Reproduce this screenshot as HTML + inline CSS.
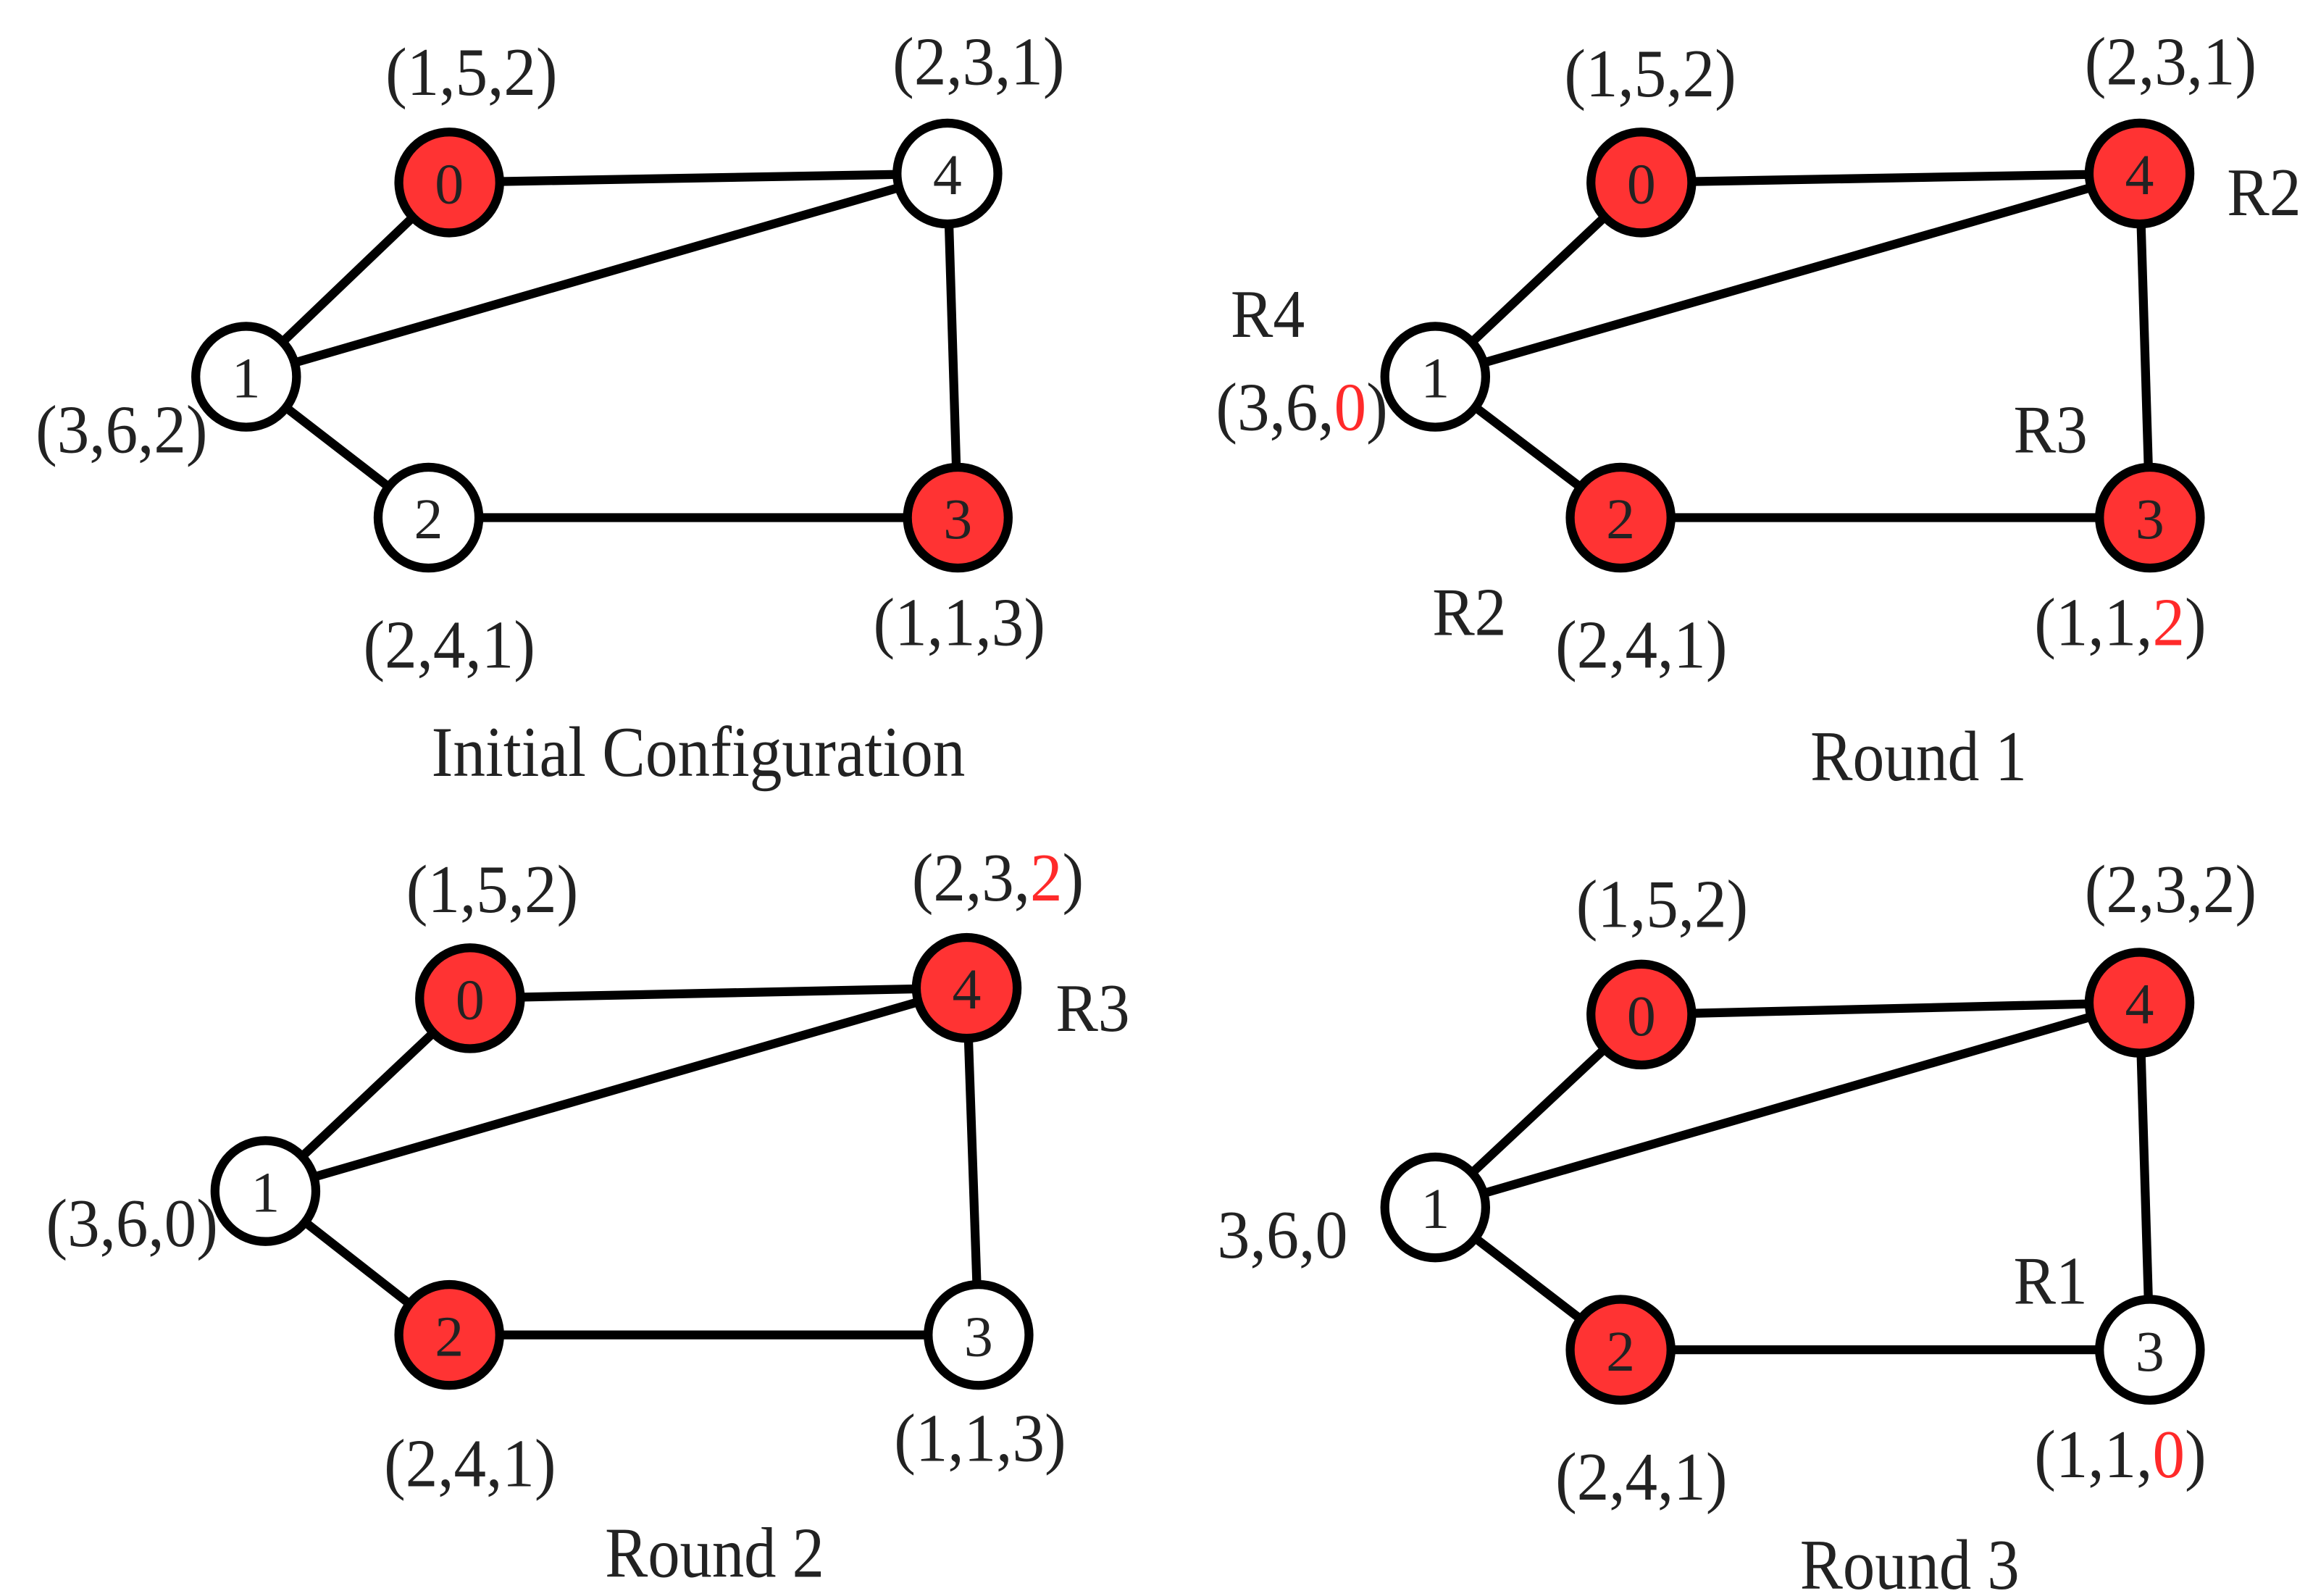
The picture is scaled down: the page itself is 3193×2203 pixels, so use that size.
<!DOCTYPE html>
<html><head><meta charset="utf-8"><style>
html,body{margin:0;padding:0;background:#fff;}
svg{display:block;}
text{font-family:"Liberation Serif",serif;fill:#222;text-anchor:middle;}
.l{font-size:46px;}
.n{font-size:39px;}
.t{font-size:48px;}
.r{fill:#ff2a2a;}
</style></head><body>
<svg width="3193" height="2203" viewBox="0 0 1560 1076" preserveAspectRatio="none" xmlns="http://www.w3.org/2000/svg">
<!-- Panel TL -->
<g stroke="#000" stroke-width="6" fill="none">
<line x1="166" y1="254" x2="303" y2="123"/><line x1="303" y1="123" x2="639" y2="117"/><line x1="166" y1="254" x2="639" y2="117"/><line x1="166" y1="254" x2="289" y2="349"/><line x1="289" y1="349" x2="646" y2="349"/><line x1="639" y1="117" x2="646" y2="349"/>
</g>
<g stroke="#000" stroke-width="6">
<circle cx="303" cy="123" r="34" fill="#ff3333"/><circle cx="639" cy="117" r="34" fill="#fff"/><circle cx="166" cy="254" r="34" fill="#fff"/><circle cx="289" cy="349" r="34" fill="#fff"/><circle cx="646" cy="349" r="34" fill="#ff3333"/>
</g>
<text class="n" x="303" y="137">0</text><text class="n" x="639" y="131">4</text><text class="n" x="166" y="268">1</text><text class="n" x="289" y="363">2</text><text class="n" x="646" y="363">3</text>
<text class="l" x="318" y="64" textLength="116" lengthAdjust="spacingAndGlyphs">(1,5,2)</text><text class="l" x="660" y="57" textLength="116" lengthAdjust="spacingAndGlyphs">(2,3,1)</text><text class="l" x="82" y="305" textLength="116" lengthAdjust="spacingAndGlyphs">(3,6,2)</text><text class="l" x="303" y="450" textLength="116" lengthAdjust="spacingAndGlyphs">(2,4,1)</text><text class="l" x="647" y="435" textLength="116" lengthAdjust="spacingAndGlyphs">(1,1,3)</text>
<text class="t" x="471" y="523" textLength="360" lengthAdjust="spacingAndGlyphs">Initial Configuration</text>

<!-- Panel TR -->
<g stroke="#000" stroke-width="6" fill="none">
<line x1="968" y1="254" x2="1107" y2="123"/><line x1="1107" y1="123" x2="1443" y2="117"/><line x1="968" y1="254" x2="1443" y2="117"/><line x1="968" y1="254" x2="1093" y2="349"/><line x1="1093" y1="349" x2="1450" y2="349"/><line x1="1443" y1="117" x2="1450" y2="349"/>
</g>
<g stroke="#000" stroke-width="6">
<circle cx="1107" cy="123" r="34" fill="#ff3333"/><circle cx="1443" cy="117" r="34" fill="#ff3333"/><circle cx="968" cy="254" r="34" fill="#fff"/><circle cx="1093" cy="349" r="34" fill="#ff3333"/><circle cx="1450" cy="349" r="34" fill="#ff3333"/>
</g>
<text class="n" x="1107" y="137">0</text><text class="n" x="1443" y="131">4</text><text class="n" x="968" y="268">1</text><text class="n" x="1093" y="363">2</text><text class="n" x="1450" y="363">3</text>
<text class="l" x="1113" y="65" textLength="116" lengthAdjust="spacingAndGlyphs">(1,5,2)</text><text class="l" x="1464" y="57" textLength="116" lengthAdjust="spacingAndGlyphs">(2,3,1)</text><text class="l" x="1527" y="145" textLength="50" lengthAdjust="spacingAndGlyphs">R2</text><text class="l" x="855" y="227" textLength="50" lengthAdjust="spacingAndGlyphs">R4</text>
<text class="l" x="878" y="290" textLength="116" lengthAdjust="spacingAndGlyphs">(3,6,<tspan class="r">0</tspan>)</text><text class="l" x="1383" y="305" textLength="50" lengthAdjust="spacingAndGlyphs">R3</text><text class="l" x="991" y="428" textLength="50" lengthAdjust="spacingAndGlyphs">R2</text>
<text class="l" x="1107" y="450" textLength="116" lengthAdjust="spacingAndGlyphs">(2,4,1)</text><text class="l" x="1430" y="435" textLength="116" lengthAdjust="spacingAndGlyphs">(1,1,<tspan class="r">2</tspan>)</text>
<text class="t" x="1294" y="526" textLength="146" lengthAdjust="spacingAndGlyphs">Round 1</text>

<!-- Panel BL -->
<g stroke="#000" stroke-width="6" fill="none">
<line x1="179" y1="803" x2="317" y2="673"/><line x1="317" y1="673" x2="652" y2="666"/><line x1="179" y1="803" x2="652" y2="666"/><line x1="179" y1="803" x2="303" y2="900"/><line x1="303" y1="900" x2="660" y2="900"/><line x1="652" y1="666" x2="660" y2="900"/>
</g>
<g stroke="#000" stroke-width="6">
<circle cx="317" cy="673" r="34" fill="#ff3333"/><circle cx="652" cy="666" r="34" fill="#ff3333"/><circle cx="179" cy="803" r="34" fill="#fff"/><circle cx="303" cy="900" r="34" fill="#ff3333"/><circle cx="660" cy="900" r="34" fill="#fff"/>
</g>
<text class="n" x="317" y="687">0</text><text class="n" x="652" y="680">4</text><text class="n" x="179" y="817">1</text><text class="n" x="303" y="914">2</text><text class="n" x="660" y="914">3</text>
<text class="l" x="332" y="615" textLength="116" lengthAdjust="spacingAndGlyphs">(1,5,2)</text><text class="l" x="673" y="607" textLength="116" lengthAdjust="spacingAndGlyphs">(2,3,<tspan class="r">2</tspan>)</text><text class="l" x="737" y="695" textLength="50" lengthAdjust="spacingAndGlyphs">R3</text>
<text class="l" x="89" y="840" textLength="116" lengthAdjust="spacingAndGlyphs">(3,6,0)</text><text class="l" x="317" y="1002" textLength="116" lengthAdjust="spacingAndGlyphs">(2,4,1)</text><text class="l" x="661" y="985" textLength="116" lengthAdjust="spacingAndGlyphs">(1,1,3)</text>
<text class="t" x="482" y="1063" textLength="148" lengthAdjust="spacingAndGlyphs">Round 2</text>

<!-- Panel BR -->
<g stroke="#000" stroke-width="6" fill="none">
<line x1="968" y1="814" x2="1107" y2="684"/><line x1="1107" y1="684" x2="1443" y2="676"/><line x1="968" y1="814" x2="1443" y2="676"/><line x1="968" y1="814" x2="1093" y2="910"/><line x1="1093" y1="910" x2="1450" y2="910"/><line x1="1443" y1="676" x2="1450" y2="910"/>
</g>
<g stroke="#000" stroke-width="6">
<circle cx="1107" cy="684" r="34" fill="#ff3333"/><circle cx="1443" cy="676" r="34" fill="#ff3333"/><circle cx="968" cy="814" r="34" fill="#fff"/><circle cx="1093" cy="910" r="34" fill="#ff3333"/><circle cx="1450" cy="910" r="34" fill="#fff"/>
</g>
<text class="n" x="1107" y="698">0</text><text class="n" x="1443" y="690">4</text><text class="n" x="968" y="828">1</text><text class="n" x="1093" y="924">2</text><text class="n" x="1450" y="924">3</text>
<text class="l" x="1121" y="625" textLength="116" lengthAdjust="spacingAndGlyphs">(1,5,2)</text><text class="l" x="1464" y="615" textLength="116" lengthAdjust="spacingAndGlyphs">(2,3,2)</text><text class="l" x="865" y="848" textLength="88" lengthAdjust="spacingAndGlyphs">3,6,0</text><text class="l" x="1383" y="879" textLength="50" lengthAdjust="spacingAndGlyphs">R1</text>
<text class="l" x="1107" y="1011" textLength="116" lengthAdjust="spacingAndGlyphs">(2,4,1)</text><text class="l" x="1430" y="996" textLength="116" lengthAdjust="spacingAndGlyphs">(1,1,<tspan class="r">0</tspan>)</text>
<text class="t" x="1288" y="1071" textLength="148" lengthAdjust="spacingAndGlyphs">Round 3</text>
</svg>
</body></html>
